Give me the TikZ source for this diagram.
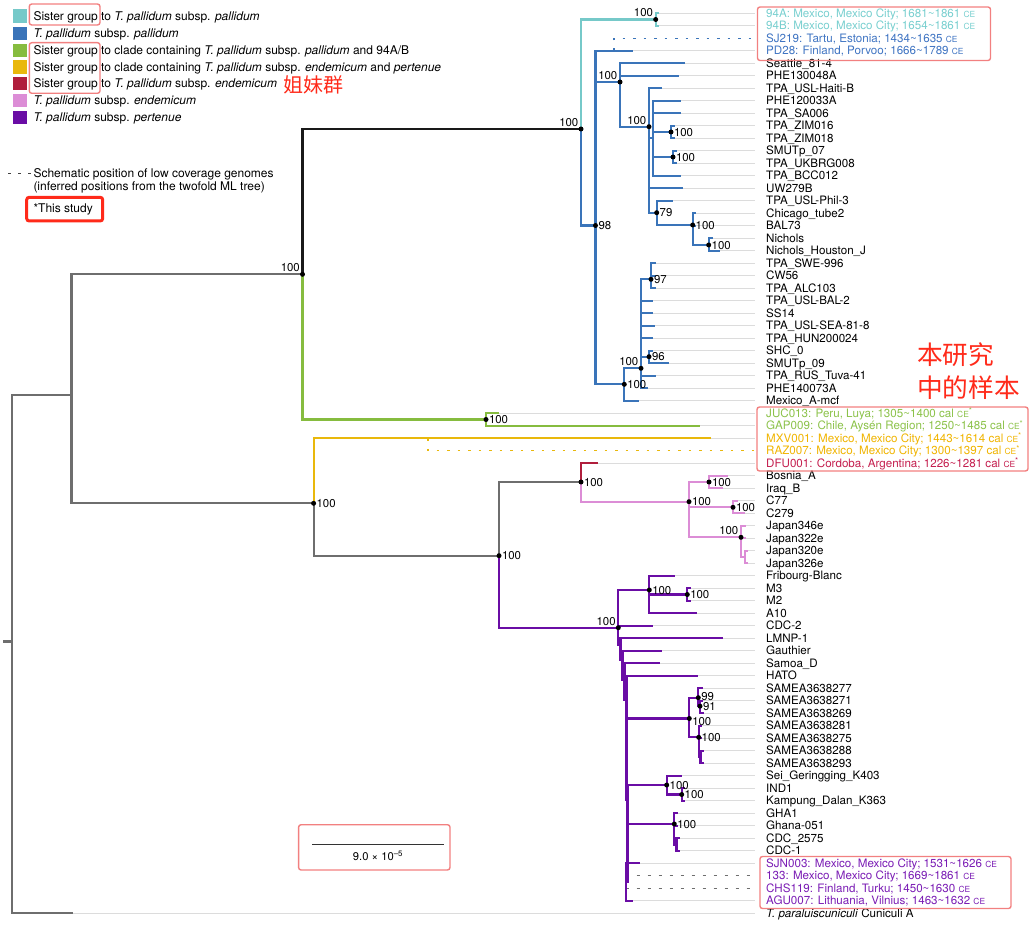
\documentclass[tikz,border=0pt]{standalone}
\usepackage{fontspec}
\setmainfont{TeX Gyre Heros}
\newfontfamily\cjk{Noto Sans CJK SC}
\definecolor{cteal}{HTML}{76C9C9}
\definecolor{cblue}{HTML}{3A74B9}
\definecolor{cgreen}{HTML}{86BC3F}
\definecolor{cyellow}{HTML}{E9B80C}
\definecolor{cred}{HTML}{B01E3C}
\definecolor{cpink}{HTML}{DC8DD6}
\definecolor{cpurple}{HTML}{6A0DA5}
\definecolor{tgray}{HTML}{6E6E6E}
\definecolor{lgray}{HTML}{DCDCDC}
\definecolor{boxred}{HTML}{F28080}
\definecolor{annored}{HTML}{FF2A1A}
\definecolor{tteal}{HTML}{78CFCF}
\definecolor{tblue}{HTML}{3F74C2}
\definecolor{tgreen}{HTML}{8CC24A}
\definecolor{tyellow}{HTML}{F0B400}
\definecolor{tred}{HTML}{C41E4E}
\definecolor{tpurple}{HTML}{7A1CB4}
\newcommand\lf{\fontsize{11.6}{13}\selectfont}
\newcommand\bsf{\fontsize{11.4}{13}\selectfont}
\newcommand\lgf{\fontsize{12}{14}\selectfont}
\newcommand\smce{{\fontsize{8.4}{8}\selectfont CE}}
\newcommand\stsym{\raisebox{3.5pt}{\fontsize{8}{8}\selectfont *}}
\tikzset{
  brl/.style={line width=2.2pt, line cap=rect},
  leader/.style={draw=lgray, line width=1.3pt},
  lab/.style={anchor=base west, inner sep=0pt, yshift=-4.1pt, font=\lf},
  lgt/.style={anchor=base west, inner sep=0pt, yshift=-4.2pt, font=\lgf},
  bsr/.style={anchor=base west, inner sep=0pt, xshift=2.8pt, yshift=-4.1pt, font=\bsf},
  bsl/.style={anchor=base east, inner sep=0pt, xshift=-2.5pt, yshift=2.6pt, font=\bsf},
  bdot/.style={circle, fill=black, inner sep=0pt, minimum size=5pt},
  sq/.style={rectangle, inner sep=0pt, minimum size=13.3pt},
  rbox/.style={draw=boxred, line width=1.4pt, rounded corners=2.5pt},
  sdash/.style={line width=1.3pt, dash pattern=on 2.5pt off 8pt},
}
\newcommand\leaf[5]{%
  \coordinate (#1) at (#2,#3);
  \coordinate (#1E) at (755,#3);
  \draw[leader] (#1) -- (#1E);
  \node[lab,#5] (#1L) at (766,#3) {#4};}
\newcommand\br[3]{\draw[brl,draw=#1] (#2) |- (#3);}
\begin{document}
\begin{tikzpicture}[x=1pt,y=-1pt]
\path[use as bounding box] (0,0) rectangle (1034,925);
% ---------------- leaves ----------------
\leaf{l0}{658}{13.3}{94A: Mexico, Mexico City; 1681\textasciitilde 1861 \smce}{text=tteal}
\leaf{l1}{658}{25.8}{94B: Mexico, Mexico City; 1654\textasciitilde 1861 \smce}{text=tteal}
\coordinate (l2E) at (755,38.3);
\node[lab,text=tblue] (l2L) at (766,38.3) {SJ219: Tartu, Estonia; 1434\textasciitilde 1635 \smce};
\leaf{l3}{632}{50.8}{PD28: Finland, Porvoo; 1666\textasciitilde 1789 \smce}{text=tblue}
\leaf{l4}{684}{63.3}{Seattle\_81-4}{}
\leaf{l5}{678}{75.8}{PHE130048A}{}
\leaf{l6}{661}{88.3}{TPA\_USL-Haiti-B}{}
\leaf{l7}{680}{100.8}{PHE120033A}{}
\leaf{l8}{680}{113.3}{TPA\_SA006}{}
\leaf{l9}{674}{125.8}{TPA\_ZIM016}{}
\leaf{l10}{674}{138.3}{TPA\_ZIM018}{}
\leaf{l11}{676}{150.8}{SMUTp\_07}{}
\leaf{l12}{676}{163.3}{TPA\_UKBRG008}{}
\leaf{l13}{680}{175.8}{TPA\_BCC012}{}
\leaf{l14}{682}{188.3}{UW279B}{}
\leaf{l15}{672}{200.8}{TPA\_USL-Phil-3}{}
\leaf{l16}{695}{213.3}{Chicago\_tube2}{}
\leaf{l17}{695}{225.8}{BAL73}{}
\leaf{l18}{712}{238.3}{Nichols}{}
\leaf{l19}{719}{250.8}{Nichols\_Houston\_J}{}
\leaf{l20}{655}{263.3}{TPA\_SWE-996}{}
\leaf{l21}{655}{275.8}{CW56}{}
\leaf{l22}{655}{288.3}{TPA\_ALC103}{}
\leaf{l23}{652}{300.8}{TPA\_USL-BAL-2}{}
\leaf{l24}{652}{313.3}{SS14}{}
\leaf{l25}{654}{325.8}{TPA\_USL-SEA-81-8}{}
\leaf{l26}{652}{338.3}{TPA\_HUN200024}{}
\leaf{l27}{652}{350.8}{SHC\_0}{}
\leaf{l28}{668}{363.3}{SMUTp\_09}{}
\leaf{l29}{655}{375.8}{TPA\_RUS\_Tuva-41}{}
\leaf{l30}{647}{388.3}{PHE140073A}{}
\leaf{l31}{638}{400.8}{Mexico\_A-mcf}{}
\leaf{l32}{498}{413.3}{JUC013: Peru, Luya; 1305\textasciitilde 1400 cal \smce\stsym}{text=tgreen}
\leaf{l33}{699}{425.8}{GAP009: Chile, Aysén Region; 1250\textasciitilde 1485 cal \smce\stsym}{text=tgreen}
\leaf{l34}{710}{438.3}{MXV001: Mexico, Mexico City; 1443\textasciitilde 1614 cal \smce\stsym}{text=tyellow}
\coordinate (l35E) at (755,450.8);
\node[lab,text=tyellow] (l35L) at (766,450.8) {RAZ007: Mexico, Mexico City; 1300\textasciitilde 1397 cal \smce\stsym};
\leaf{l36}{597}{463.3}{DFU001: Cordoba, Argentina; 1226\textasciitilde 1281 cal \smce\stsym}{text=tred}
\leaf{l37}{727}{475.8}{Bosnia\_A}{}
\leaf{l38}{722}{488.3}{Iraq\_B}{}
\leaf{l39}{737}{500.8}{C77}{}
\leaf{l40}{744}{513.3}{C279}{}
\leaf{l41}{745}{525.8}{Japan346e}{}
\leaf{l42}{745}{538.3}{Japan322e}{}
\leaf{l43}{747}{550.8}{Japan320e}{}
\leaf{l44}{747}{563.3}{Japan326e}{}
\leaf{l45}{674}{575.8}{Fribourg-Blanc}{}
\leaf{l46}{690}{588.3}{M3}{}
\leaf{l47}{690}{600.8}{M2}{}
\leaf{l48}{696}{613.3}{A10}{}
\leaf{l49}{652}{625.8}{CDC-2}{}
\leaf{l50}{722}{638.3}{LMNP-1}{}
\leaf{l51}{661}{650.8}{Gauthier}{}
\leaf{l52}{659}{663.3}{Samoa\_D}{}
\leaf{l53}{697}{675.8}{HATO}{}
\leaf{l54}{702}{688.3}{SAMEA3638277}{}
\leaf{l55}{702}{700.8}{SAMEA3638271}{}
\leaf{l56}{703}{713.3}{SAMEA3638269}{}
\leaf{l57}{701}{725.8}{SAMEA3638281}{}
\leaf{l58}{701}{738.3}{SAMEA3638275}{}
\leaf{l59}{703}{750.8}{SAMEA3638288}{}
\leaf{l60}{703}{763.3}{SAMEA3638293}{}
\leaf{l61}{681}{775.8}{Sei\_Geringging\_K403}{}
\leaf{l62}{684}{788.3}{IND1}{}
\leaf{l63}{684}{800.8}{Kampung\_Dalan\_K363}{}
\leaf{l64}{677}{813.3}{GHA1}{}
\leaf{l65}{677}{825.8}{Ghana-051}{}
\leaf{l66}{679}{838.3}{CDC\_2575}{}
\leaf{l67}{679}{850.8}{CDC-1}{}
\leaf{l68}{639}{863.3}{SJN003: Mexico, Mexico City; 1531\textasciitilde 1626 \smce}{text=tpurple}
\coordinate (l69) at (625.7,875.8); \coordinate (l69E) at (755,875.8);
\node[lab,text=tpurple] (l69L) at (766,875.8) {133: Mexico, Mexico City; 1669\textasciitilde 1861 \smce};
\coordinate (l70) at (625.7,888.3); \coordinate (l70E) at (755,888.3);
\node[lab,text=tpurple] (l70L) at (766,888.3) {CHS119: Finland, Turku; 1450\textasciitilde 1630 \smce};
\leaf{l71}{632}{900.8}{AGU007: Lithuania, Vilnius; 1463\textasciitilde 1632 \smce}{text=tpurple}
\leaf{l72}{71.4}{913.3}{\textit{T. paraluiscuniculi} Cuniculi A}{}
% ---------------- internal nodes ----------------
\coordinate (rs) at (3,641.5);
\coordinate (root) at (11.8,641.5);
\coordinate (A) at (71.4,395);
\coordinate (B) at (302.5,274.3);
\coordinate (P) at (581,129);
\coordinate (AB) at (655.7,19.5);
\coordinate (Q) at (595.5,225.5);
\coordinate (sjb) at (614,50.8);
\coordinate (R) at (620,82);
\coordinate (T) at (649,126.7);
\coordinate (T2) at (653,138);
\coordinate (Z1) at (671,132);
\coordinate (Z2) at (673,157);
\coordinate (N79) at (656.7,212.7);
\coordinate (V) at (692.7,225);
\coordinate (W) at (708.7,245);
\coordinate (S) at (624.3,384.3);
\coordinate (U) at (641,368.3);
\coordinate (N97) at (651,279.3);
\coordinate (N96) at (649,356.7);
\coordinate (Gn) at (486,419.5);
\coordinate (C) at (313.6,503.3);
\coordinate (razb) at (428,438.3);
\coordinate (D) at (499,555.7);
\coordinate (E) at (581,482);
\coordinate (G) at (689,501.7);
\coordinate (BI) at (709,482);
\coordinate (C7) at (733,507.3);
\coordinate (JP) at (741,537.3);
\coordinate (JP2) at (745,557);
\coordinate (F) at (618.3,627.7);
\coordinate (X) at (649.3,590);
\coordinate (M) at (687.3,594.5);
\coordinate (F1) at (620.5,645);
\coordinate (F2) at (622.5,660);
\coordinate (F3) at (624.5,680);
\coordinate (F4) at (626.5,700);
\coordinate (F5) at (627.5,800);
\coordinate (F6) at (625.7,882);
\coordinate (Y) at (689.3,718.5);
\coordinate (N99) at (698.3,697.7);
\coordinate (N91) at (700,706.2);
\coordinate (SA) at (698.7,737.3);
\coordinate (SA2) at (700.5,757);
\coordinate (Z) at (666.7,785);
\coordinate (K) at (681.7,794.5);
\coordinate (Gh) at (674.3,824);
\coordinate (Gh2) at (676.5,845);
% ---------------- dashed low-coverage ----------------
\draw[sdash,draw=cblue] (sjb) |- (l2E);
\draw[sdash,draw=cyellow] (razb) |- (l35E);
\draw[sdash,draw=tgray,dash pattern=on 3pt off 8pt] (l69) -- (l69E);
\draw[sdash,draw=tgray,dash pattern=on 3pt off 8pt] (l70) -- (l70E);
% ---------------- branches ----------------
\draw[brl,draw=tgray,line cap=butt] (rs) -- (root);
\br{tgray}{root}{A}
\br{tgray}{root}{l72}
\br{tgray}{A}{B}
\br{tgray}{A}{C}
\br{tgray}{C}{D}
\br{tgray}{D}{E}
\br{black!90}{B}{P}
\br{cgreen}{B}{Gn}
\br{cgreen}{Gn}{l32}
\br{cgreen}{Gn}{l33}
\br{cteal}{P}{AB}
\br{cteal}{AB}{l0}
\br{cteal}{AB}{l1}
\br{cblue}{P}{Q}
\br{cblue}{Q}{l3}
\br{cblue}{Q}{R}
\br{cblue}{Q}{S}
\br{cblue}{R}{l4}
\br{cblue}{R}{l5}
\br{cblue}{R}{T}
\br{cblue}{T}{l6}
\br{cblue}{T}{T2}
\br{cblue}{T}{l14}
\br{cblue}{T}{N79}
\br{cblue}{T2}{l7}
\br{cblue}{T2}{l8}
\br{cblue}{T2}{Z1}
\br{cblue}{T2}{Z2}
\br{cblue}{T2}{l13}
\br{cblue}{Z1}{l9}
\br{cblue}{Z1}{l10}
\br{cblue}{Z2}{l11}
\br{cblue}{Z2}{l12}
\br{cblue}{N79}{l15}
\br{cblue}{N79}{V}
\br{cblue}{V}{l16}
\br{cblue}{V}{l17}
\br{cblue}{V}{W}
\br{cblue}{W}{l18}
\br{cblue}{W}{l19}
\br{cblue}{S}{U}
\br{cblue}{S}{l31}
\br{cblue}{U}{N97}
\br{cblue}{U}{l23}
\br{cblue}{U}{l24}
\br{cblue}{U}{l25}
\br{cblue}{U}{l26}
\br{cblue}{U}{N96}
\br{cblue}{U}{l29}
\br{cblue}{U}{l30}
\br{cblue}{N97}{l20}
\br{cblue}{N97}{l21}
\br{cblue}{N97}{l22}
\br{cblue}{N96}{l27}
\br{cblue}{N96}{l28}
\br{cyellow}{C}{l34}
\br{cred}{E}{l36}
\br{cpink}{E}{G}
\br{cpink}{G}{BI}
\br{cpink}{G}{C7}
\br{cpink}{G}{JP}
\br{cpink}{BI}{l37}
\br{cpink}{BI}{l38}
\br{cpink}{C7}{l39}
\br{cpink}{C7}{l40}
\br{cpink}{JP}{l41}
\br{cpink}{JP}{l42}
\br{cpink}{JP}{JP2}
\br{cpink}{JP2}{l43}
\br{cpink}{JP2}{l44}
\br{cpurple}{D}{F}
\br{cpurple}{F}{X}
\br{cpurple}{F}{l49}
\br{cpurple}{F}{F1}
\br{cpurple}{X}{l45}
\br{cpurple}{X}{M}
\br{cpurple}{X}{l48}
\br{cpurple}{M}{l46}
\br{cpurple}{M}{l47}
\br{cpurple}{F1}{l50}
\br{cpurple}{F1}{F2}
\br{cpurple}{F2}{l51}
\br{cpurple}{F2}{F3}
\br{cpurple}{F3}{l52}
\br{cpurple}{F3}{F4}
\br{cpurple}{F4}{l53}
\br{cpurple}{F4}{Y}
\br{cpurple}{F4}{F5}
\br{cpurple}{Y}{N99}
\br{cpurple}{Y}{SA}
\br{cpurple}{N99}{l54}
\br{cpurple}{N99}{N91}
\br{cpurple}{N91}{l55}
\br{cpurple}{N91}{l56}
\br{cpurple}{SA}{l57}
\br{cpurple}{SA}{l58}
\br{cpurple}{SA}{SA2}
\br{cpurple}{SA2}{l59}
\br{cpurple}{SA2}{l60}
\br{cpurple}{F5}{Z}
\br{cpurple}{F5}{Gh}
\br{cpurple}{F5}{F6}
\br{cpurple}{Z}{l61}
\br{cpurple}{Z}{K}
\br{cpurple}{K}{l62}
\br{cpurple}{K}{l63}
\br{cpurple}{Gh}{l64}
\br{cpurple}{Gh}{l65}
\br{cpurple}{Gh}{Gh2}
\br{cpurple}{Gh2}{l66}
\br{cpurple}{Gh2}{l67}
\br{cpurple}{F6}{l68}
\br{cpurple}{F6}{l71}
% ---------------- dots and support values ----------------
\foreach \n in {AB,P,R,T,Z1,Z2,Q,N79,V,W,N97,U,N96,S,B,Gn,C,D,E,BI,G,C7,JP,X,M,F,N99,N91,Y,SA,Z,K,Gh}
  \node[bdot] (d\n) at (\n) {};
\foreach \n in {B,P,AB,R,T,U,F,JP}
  \node[bsl] (s\n) at (\n) {100};
\foreach \n/\v in {Q/98,Z1/100,Z2/100,N79/79,V/100,W/100,N97/97,N96/96,S/100,Gn/100,C/100,D/100,E/100,BI/100,G/100,C7/100,X/100,M/100,SA/100,Z/100,K/100,Gh/100}
  \node[bsr] (s\n) at (\n) {\v};
\node[bsr, yshift=1.8pt] (sN99) at (N99) {99};
\node[bsr, yshift=-0.6pt] (sN91) at (N91) {91};
\node[bsr, yshift=-2.4pt] (sY) at (Y) {100};
% ---------------- annotation boxes ----------------
\draw[rbox] (757.5,7) rectangle (990.5,60.5);
\draw[rbox] (757,407) rectangle (1028,471);
\draw[rbox] (760,856.5) rectangle (1011,908.5);
\draw[rbox] (298.6,824.7) rectangle (450,870);
% ---------------- scale bar ----------------
\coordinate (sb1) at (312,844.3);
\coordinate (sb2) at (444,844.3);
\draw[line width=1.3pt, draw=black!80] (sb1) -- (sb2);
\node[font=\fontsize{11.2}{12}\selectfont, inner sep=0pt, anchor=base] (sbl) at (378,860.8) {9.0 × 10\textsuperscript{–5}};
% ---------------- legend ----------------
\node[sq,fill=cteal] (k1) at (20,16) {};
\node[sq,fill=cblue] (k2) at (20,33.7) {};
\node[sq,fill=cgreen] (k3) at (20,50.7) {};
\node[sq,fill=cyellow] (k4) at (20,67) {};
\node[sq,fill=cred] (k5) at (20,83.7) {};
\node[sq,fill=cpink] (k6) at (20,100.7) {};
\node[sq,fill=cpurple] (k7) at (20,117.7) {};
\node[lgt] (t1) at (33.3,16) {Sister group to \textit{T. pallidum} subsp. \textit{pallidum}};
\node[lgt] (t2) at (33.3,33.7) {\textit{T. pallidum} subsp. \textit{pallidum}};
\node[lgt] (t3) at (33.3,50.7) {Sister group to clade containing \textit{T. pallidum} subsp. \textit{pallidum} and 94A/B};
\node[lgt] (t4) at (33.3,67) {Sister group to clade containing \textit{T. pallidum} subsp. \textit{endemicum} and \textit{pertenue}};
\node[lgt] (t5) at (33.3,83.7) {Sister group to \textit{T. pallidum} subsp. \textit{endemicum}};
\node[lgt] (t6) at (33.3,100.7) {\textit{T. pallidum} subsp. \textit{endemicum}};
\node[lgt] (t7) at (33.3,117.7) {\textit{T. pallidum} subsp. \textit{pertenue}};
\draw[rbox] (29.3,4) rectangle (100,25);
\draw[rbox] (29.3,42.7) rectangle (100,93.3);
\node[anchor=west, inner sep=0pt, text=annored, font=\cjk\fontsize{20}{22}\selectfont] (cj1) at (283,85) {姐妹群};
\coordinate (ld1) at (8,173.3);
\coordinate (ld2) at (32,173.3);
\draw[line width=1pt, draw=black!75, dash pattern=on 3pt off 7pt] (ld1) -- (ld2);
\node[lgt] (t8) at (33.3,173.3) {Schematic position of low coverage genomes};
\node[lgt] (t9) at (33.3,186.7) {(inferred positions from the twofold ML tree)};
\node[lgt] (t10) at (33.3,208.8) {*This study};
\draw[draw=annored, line width=3pt, rounded corners=2.5pt] (26.7,197.3) rectangle (102.7,221);
% ---------------- Chinese annotation ----------------
\node[anchor=west, inner sep=0pt, text=annored, font=\cjk\fontsize{25.7}{28}\selectfont] (cj2) at (917,355) {本研究};
\node[anchor=west, inner sep=0pt, text=annored, font=\cjk\fontsize{25.7}{28}\selectfont] (cj3) at (917,388) {中的样本};
\end{tikzpicture}
\end{document}
